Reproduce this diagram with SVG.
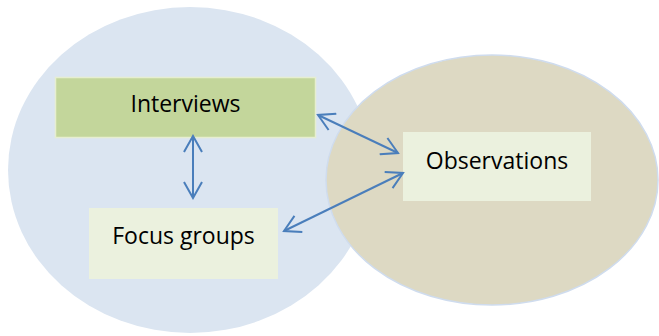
<svg xmlns="http://www.w3.org/2000/svg" width="659" height="336" viewBox="0 0 659 336">
<style>
.lbl{font-family:"Open Sans","Liberation Sans",sans-serif;font-size:23px;fill:#000;text-anchor:middle}
.con{stroke:#4a7ebb;stroke-width:2;fill:none}
</style>
<defs>
<marker id="chev" viewBox="0 0 20 20" refX="18" refY="10" markerWidth="20" markerHeight="20" markerUnits="userSpaceOnUse" orient="auto-start-reverse">
<path d="M2,1 L18,10 L2,19" fill="none" stroke="#4a7ebb" stroke-width="2"/>
</marker>
</defs>
<rect width="659" height="336" fill="#ffffff"/>
<g id="area-left">
<ellipse cx="190" cy="170" rx="182" ry="163" fill="#dbe5f1"/>
</g>
<g id="area-right">
<ellipse cx="492" cy="180" rx="166" ry="125" fill="#ddd9c3" stroke="#cfdcee" stroke-width="1.5"/>
</g>
<g id="interviews">
<rect x="55.5" y="77.5" width="260" height="60" fill="#c3d69b" stroke="#e6eed0" stroke-width="1.5"/>
<text class="lbl" x="185.5" y="112">Interviews</text>
</g>
<g id="focus-groups">
<rect x="89" y="208" width="189" height="71" fill="#ebf1de"/>
<text class="lbl" x="183.5" y="244">Focus groups</text>
</g>
<g id="observations">
<rect x="403" y="132" width="188" height="69" fill="#ebf1de"/>
<text class="lbl" x="497" y="168.5">Observations</text>
</g>
<g id="connectors">
<line class="con" x1="193" y1="136" x2="193" y2="198" marker-start="url(#chev)" marker-end="url(#chev)"/>
<line class="con" x1="318" y1="115" x2="398" y2="153" marker-start="url(#chev)" marker-end="url(#chev)"/>
<line class="con" x1="284" y1="231" x2="403" y2="173" marker-start="url(#chev)" marker-end="url(#chev)"/>
</g>
</svg>
